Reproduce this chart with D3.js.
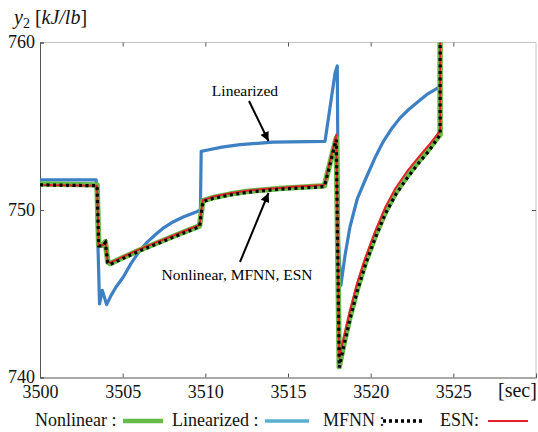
<!DOCTYPE html>
<html><head><meta charset="utf-8">
<script src="https://cdn.jsdelivr.net/npm/d3@7"></script>
<style>body{margin:0;background:#fff}svg{display:block}text{font-family:"Liberation Serif","Times New Roman",serif}</style>
</head><body><svg id="c" width="538" height="432"></svg>
<script>
// ---- data ----
const xTicks = [3500, 3505, 3510, 3515, 3520, 3525];
const yTicks = [740, 750, 760];

const tNonlinear = [3500, 3503.45, 3503.55, 3503.8, 3503.95, 3504.1, 3504.25, 3505, 3506, 3507, 3508, 3509, 3509.65, 3509.85, 3510.5, 3511.5, 3512.5, 3513.5, 3514.5, 3515.5, 3516.5, 3517.2, 3517.92, 3518.1, 3518.4, 3518.75, 3519.2, 3519.7, 3520.3, 3520.9, 3521.5, 3522.2, 3522.9, 3523.5, 3524.1, 3524.2, 3524.2];
const nonlinear  = [751.55, 751.5, 747.9, 747.9, 748.1, 746.9, 746.8, 747.15, 747.6, 748.0, 748.4, 748.8, 749.05, 750.55, 750.75, 750.95, 751.1, 751.2, 751.28, 751.35, 751.4, 751.45, 754.3, 740.65, 742.1, 743.6, 745.3, 746.9, 748.5, 749.9, 751.0, 752.0, 752.9, 753.6, 754.4, 754.5, 763];
const mfnn       = [751.5, 751.45, 747.85, 747.85, 748.05, 746.85, 746.75, 747.1, 747.55, 747.95, 748.35, 748.75, 749.0, 750.5, 750.7, 750.9, 751.05, 751.15, 751.25, 751.3, 751.35, 751.4, 754.2, 740.6, 742.0, 743.5, 745.2, 746.8, 748.4, 749.8, 750.9, 751.9, 752.8, 753.5, 754.35, 754.5, 763];
const esn        = [751.5, 751.45, 747.9, 747.9, 748.1, 746.9, 746.85, 747.2, 747.65, 748.05, 748.45, 748.85, 749.1, 750.6, 750.8, 751.0, 751.15, 751.25, 751.32, 751.4, 751.45, 751.5, 754.5, 741.2, 742.5, 744.0, 745.7, 747.2, 748.8, 750.2, 751.3, 752.3, 753.15, 753.85, 754.6, 754.7, 763];

const tLinearized = [3500, 3503.4, 3503.6, 3503.77, 3504.03, 3504.3, 3504.6, 3505.04, 3505.5, 3506.05, 3506.5, 3507.06, 3507.5, 3508.07, 3508.7, 3509.48, 3509.7, 3509.75, 3510.0, 3511.0, 3512.1, 3514.1, 3517.24, 3517.85, 3517.98, 3518.05, 3518.2, 3518.45, 3518.75, 3519.2, 3519.76, 3520.3, 3520.77, 3521.3, 3521.78, 3522.3, 3522.79, 3523.4, 3524.1, 3524.2, 3524.2];
const linearized  = [751.8, 751.8, 744.4, 745.2, 744.35, 744.9, 745.4, 746.0, 746.8, 747.6, 748.1, 748.6, 748.95, 749.3, 749.6, 749.9, 750.0, 753.5, 753.55, 753.75, 753.9, 754.05, 754.1, 758.2, 758.6, 748, 745.5, 747.3, 749.0, 750.7, 752.0, 753.2, 754.1, 754.9, 755.5, 756.0, 756.4, 756.9, 757.3, 757.4, 763];

const legendLabels = ["Nonlinear :", "Linearized :", "MFNN :", "ESN:"];

// ---- layout ----
const FONT = "'Liberation Serif','Times New Roman',serif";
const svg = d3.select("#c");
const L = 40, T = 42.5, W = 496, H = 335;
const x = d3.scaleLinear().domain([3500, 3530]).range([L, L + W]);
const y = d3.scaleLinear().domain([740, 760]).range([T + H, T]);

svg.append("defs").append("clipPath").attr("id", "clip")
  .append("rect").attr("x", L).attr("y", T).attr("width", W).attr("height", H);

// frame (top/right light)
svg.append("line").attr("x1", L).attr("x2", L + W).attr("y1", T).attr("y2", T).attr("stroke", "#c4c4c4");
svg.append("line").attr("x1", L + W).attr("x2", L + W).attr("y1", T).attr("y2", T + H).attr("stroke", "#c4c4c4");

// axes
const xAxis = d3.axisBottom(x).tickValues(xTicks).tickSize(-4).tickFormat(d3.format("d"));
const gx = svg.append("g").attr("transform", `translate(0,${T + H})`).call(xAxis).attr("font-family", FONT);
gx.select(".domain").attr("stroke", "#555");
gx.selectAll(".tick line").attr("stroke", "#555");
gx.selectAll("text").attr("font-size", 18).attr("font-family", FONT).attr("fill", "#111").attr("y", 20).attr("dy", 0);

const xTop = d3.axisTop(x).tickValues(xTicks).tickSize(-4).tickFormat("");
const gxt = svg.append("g").attr("transform", `translate(0,${T})`).call(xTop);
gxt.select(".domain").remove();
gxt.selectAll(".tick line").attr("stroke", "#555");

const yAxis = d3.axisLeft(y).tickValues(yTicks).tickSize(-4).tickPadding(5).tickFormat(d3.format("d"));
const gy = svg.append("g").attr("transform", `translate(${L},0)`).call(yAxis).attr("font-family", FONT);
gy.select(".domain").attr("stroke", "#555");
gy.selectAll(".tick line").attr("stroke", "#555");
gy.selectAll("text").attr("font-size", 18).attr("font-family", FONT).attr("fill", "#111").attr("dy", "0.3em");

const yRight = d3.axisRight(y).tickValues([750]).tickSize(-4).tickFormat("");
const gyr = svg.append("g").attr("transform", `translate(${L + W},0)`).call(yRight);
gyr.select(".domain").remove();
gyr.selectAll(".tick line").attr("stroke", "#555");

// series
const plot = svg.append("g").attr("clip-path", "url(#clip)");
const line = d3.line().x(d => x(d[0])).y(d => y(d[1]));
const zip = (t, v) => t.map((d, i) => [d, v[i]]);

plot.append("path").datum(zip(tLinearized, linearized)).attr("d", line)
  .attr("fill", "none").attr("stroke", "#3d80c4").attr("stroke-width", 3.2).attr("stroke-linejoin", "round");
plot.append("path").datum(zip(tNonlinear, nonlinear)).attr("d", line)
  .attr("fill", "none").attr("stroke", "#66bb47").attr("stroke-width", 5.5).attr("stroke-linejoin", "round");
plot.append("path").datum(zip(tNonlinear, esn)).attr("d", line)
  .attr("fill", "none").attr("stroke", "#e8202a").attr("stroke-width", 2).attr("stroke-linejoin", "round");
plot.append("path").datum(zip(tNonlinear, mfnn)).attr("d", line)
  .attr("fill", "none").attr("stroke", "#000").attr("stroke-width", 3.2).attr("stroke-dasharray", "3,3.5");

// annotations
const defs = svg.select("defs");
defs.append("marker").attr("id", "ah").attr("viewBox", "0 0 10 10").attr("refX", 10).attr("refY", 5)
  .attr("markerWidth", 11).attr("markerHeight", 9).attr("markerUnits", "userSpaceOnUse").attr("orient", "auto")
  .append("path").attr("d", "M0,0L10,5L0,10Z").attr("fill", "#000");

svg.append("text").attr("x", 245).attr("y", 96).attr("text-anchor", "middle").attr("font-size", 15.5).text("Linearized");
svg.append("line").attr("x1", 249).attr("y1", 101).attr("x2", 268.5).attr("y2", 141)
  .attr("stroke", "#000").attr("stroke-width", 2).attr("marker-end", "url(#ah)");

svg.append("text").attr("x", 237).attr("y", 280).attr("text-anchor", "middle").attr("font-size", 15.5).text("Nonlinear, MFNN, ESN");
svg.append("line").attr("x1", 240).attr("y1", 262).attr("x2", 268.5).attr("y2", 193)
  .attr("stroke", "#000").attr("stroke-width", 2).attr("marker-end", "url(#ah)");

// axis titles
const yt = svg.append("text").attr("x", 14).attr("y", 24).attr("font-size", 20).attr("fill", "#111");
yt.append("tspan").attr("font-style", "italic").text("y");
yt.append("tspan").attr("font-size", 14).attr("dy", 4).text("2");
yt.append("tspan").attr("dy", -4).text(" [");
yt.append("tspan").attr("font-style", "italic").text("kJ/lb");
yt.append("tspan").text("]");

svg.append("text").attr("x", 498).attr("y", 397).attr("font-size", 20).attr("fill", "#111").text("[sec]");

// legend
const lg = svg.append("g").attr("font-size", 18).attr("fill", "#111");
const legX = [35, 172, 323, 440];
const swatch = [[123, 163], [265, 309], [383, 424], [488, 528]];
const legStyle = [
  {c: "#66bb47", w: 4.5, d: null},
  {c: "#5aaecf", w: 3.5, d: null},
  {c: "#000", w: 3.5, d: "3,3"},
  {c: "#e8202a", w: 2, d: null}
];
legendLabels.forEach((lab, i) => {
  lg.append("text").attr("x", legX[i]).attr("y", 426).text(lab);
  const ln = lg.append("line").attr("x1", swatch[i][0]).attr("x2", swatch[i][1]).attr("y1", 421).attr("y2", 421)
    .attr("stroke", legStyle[i].c).attr("stroke-width", legStyle[i].w);
  if (legStyle[i].d) ln.attr("stroke-dasharray", legStyle[i].d);
});
</script></body></html>
